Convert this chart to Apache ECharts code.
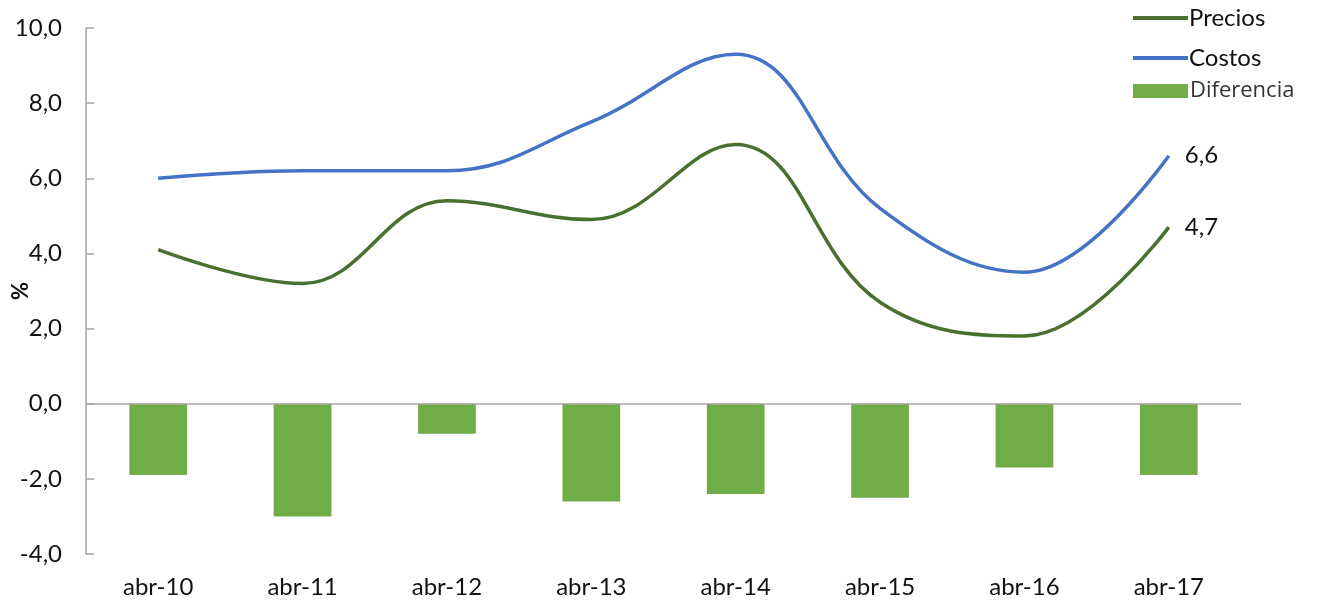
<!DOCTYPE html>
<html>
<head>
<meta charset="utf-8">
<script src="https://cdn.jsdelivr.net/npm/echarts@6/dist/echarts.min.js"></script>
<style>
html,body{margin:0;padding:0;background:#fff;}
#chart{width:1323px;height:604px;}
</style>
</head>
<body>
<div id="chart"></div>
<script>
const categories = ['abr-10','abr-11','abr-12','abr-13','abr-14','abr-15','abr-16','abr-17'];
const precios = [4.1, 3.2, 5.4, 4.9, 6.9, 2.7, 1.8, 4.7];
const costos = [6.0, 6.2, 6.2, 7.5, 9.3, 5.2, 3.5, 6.6];
const diferencia = [-1.9, -3.0, -0.8, -2.6, -2.4, -2.5, -1.7, -1.9];
const yTicks = { min: -4, max: 10, interval: 2 };

const FONT = 'Lato, "Open Sans", sans-serif';
const TXT = '#111';
const fmt = v => v.toFixed(1).replace('.', ',');

const chart = echarts.init(document.getElementById('chart'));
chart.setOption({
  animation: false,
  textStyle: { fontFamily: FONT },
  grid: { left: 86, right: 82, top: 28, bottom: 50, containLabel: false, outerBoundsMode: 'none' },
  legend: [
    { data: [{ name: 'Precios', icon: 'rect' }], left: 1133, top: 6, padding: 0, itemWidth: 55, itemHeight: 4,
      textStyle: { fontSize: 24, color: TXT, fontFamily: FONT, padding: [0, 0, 0, -4] } },
    { data: [{ name: 'Costos', icon: 'rect' }], left: 1133, top: 46, padding: 0, itemWidth: 55, itemHeight: 4,
      textStyle: { fontSize: 24, color: TXT, fontFamily: FONT, padding: [0, 0, 0, -4] } },
    { data: [{ name: 'Diferencia', icon: 'rect' }], left: 1133, top: 80, padding: 0, itemWidth: 55, itemHeight: 14,
      textStyle: { fontSize: 22, color: '#333', fontFamily: '"Open Sans", sans-serif', padding: [0, 0, 0, -3] } }
  ],
  xAxis: {
    type: 'category',
    data: categories,
    position: 'bottom',
    axisLine: { show: false, onZero: false },
    axisTick: { show: false },
    axisLabel: { fontSize: 24, color: TXT, margin: 21, fontFamily: FONT }
  },
  yAxis: {
    type: 'value',
    min: yTicks.min, max: yTicks.max, interval: yTicks.interval,
    name: '%',
    nameLocation: 'middle',
    nameGap: 54,
    nameRotate: 90,
    nameMoveOverlap: false,
    nameTextStyle: { fontSize: 22, fontWeight: 'bold', color: TXT, fontFamily: FONT },
    axisLine: { show: true, lineStyle: { color: '#A6A6A6', width: 1.5 } },
    axisTick: { show: true, inside: true, length: 8, lineStyle: { color: '#A6A6A6', width: 1.5 } },
    splitLine: { show: false },
    axisLabel: { fontSize: 24, color: TXT, margin: 24, formatter: v => fmt(v), fontFamily: FONT }
  },
  series: [
    {
      name: 'Diferencia', type: 'bar', data: diferencia, barWidth: '40%',
      itemStyle: { color: '#70AD47' },
      z: 1,
      markLine: {
        silent: true, symbol: 'none', label: { show: false },
        lineStyle: { color: '#A6A6A6', width: 1.5, type: 'solid' },
        data: [{ yAxis: 0 }]
      }
    },
    {
      name: 'Precios', type: 'line', data: precios, smooth: 0.4,
      showSymbol: false, symbol: 'none',
      lineStyle: { color: '#4A7030', width: 3.5 },
      itemStyle: { color: '#4A7030' },
      endLabel: { show: true, formatter: p => fmt(p.value), fontSize: 24, color: TXT, distance: 16, fontFamily: FONT },
      z: 3
    },
    {
      name: 'Costos', type: 'line', data: costos, smooth: 0.4,
      showSymbol: false, symbol: 'none',
      lineStyle: { color: '#4472C4', width: 3.5 },
      itemStyle: { color: '#4472C4' },
      endLabel: { show: true, formatter: p => fmt(p.value), fontSize: 24, color: TXT, distance: 16, fontFamily: FONT },
      z: 3
    }
  ]
});
</script>
</body>
</html>
